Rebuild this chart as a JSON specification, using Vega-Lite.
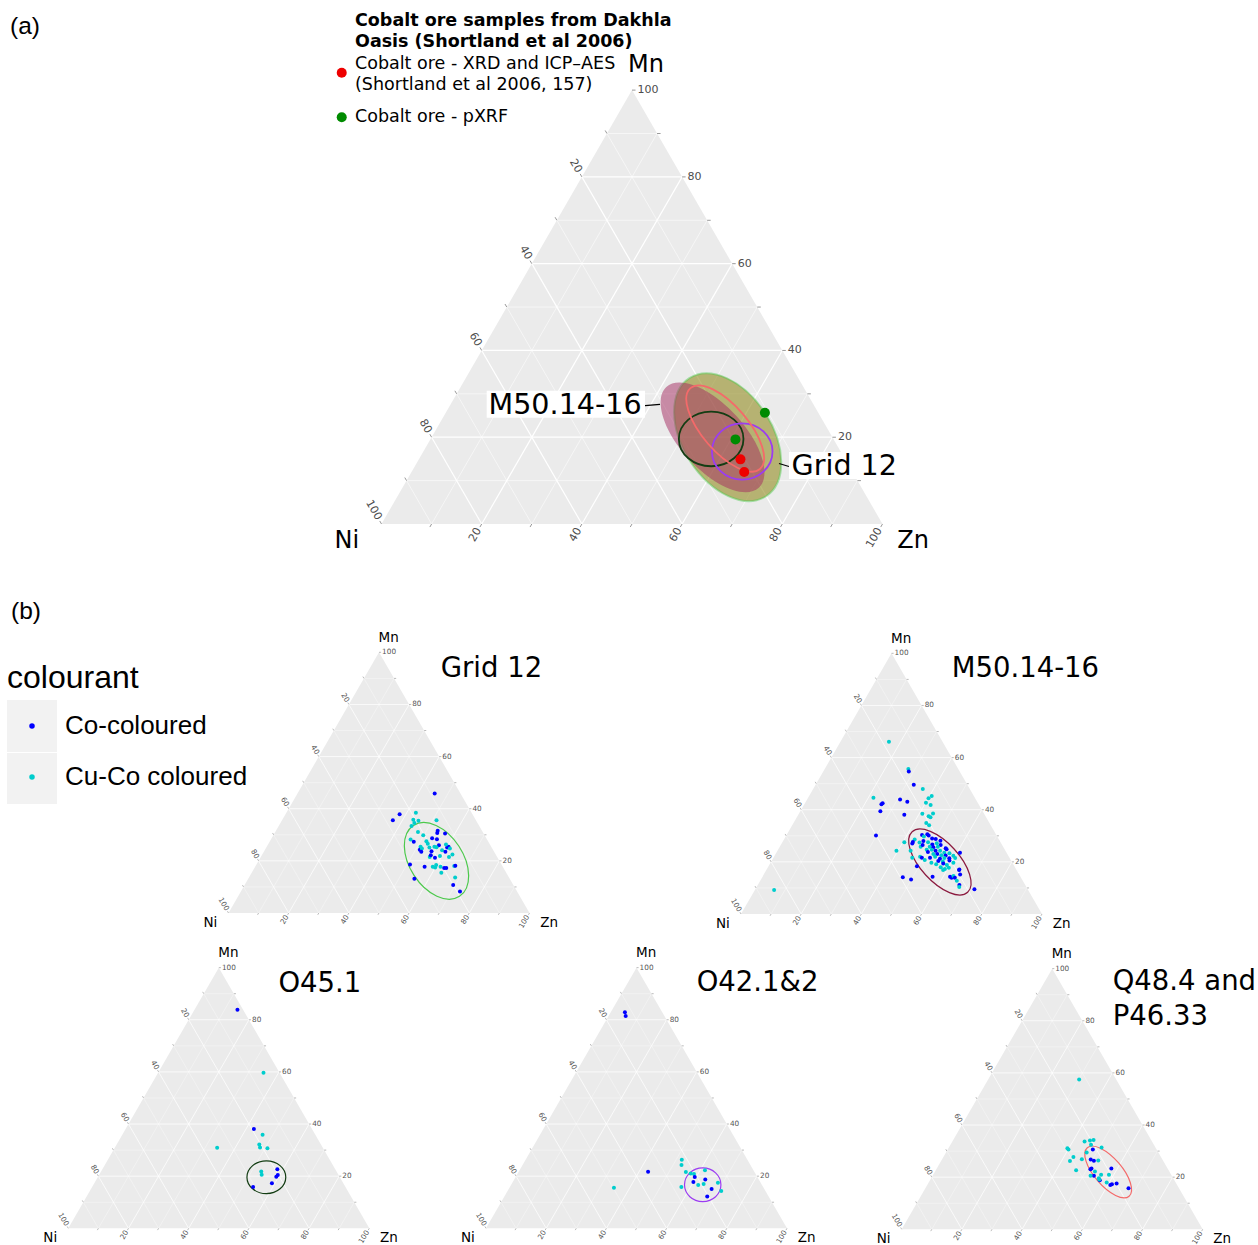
{
"$schema": "https://vega.github.io/schema/vega-lite/v6.json",
"padding": 0,
"spacing": 0,
"config": {"view": {"stroke": null, "fill": "#ffffff"}, "axis": {"disable": true}},
"resolve": {"scale": {"size": "independent"}},
"datasets": {
"one": [{"n": 1}],
"triangle": [{"Mn":0,"Zn":0},{"Mn":100,"Zn":0},{"Mn":0,"Zn":100}],
"grid": [
{"axis":"Mn","v":10,"mn1":10,"zn1":0,"mn2":10,"zn2":90},{"axis":"Zn","v":10,"mn1":0,"zn1":10,"mn2":90,"zn2":10},{"axis":"Ni","v":10,"mn1":0,"zn1":90,"mn2":90,"zn2":0},
{"axis":"Mn","v":20,"mn1":20,"zn1":0,"mn2":20,"zn2":80},{"axis":"Zn","v":20,"mn1":0,"zn1":20,"mn2":80,"zn2":20},{"axis":"Ni","v":20,"mn1":0,"zn1":80,"mn2":80,"zn2":0},
{"axis":"Mn","v":30,"mn1":30,"zn1":0,"mn2":30,"zn2":70},{"axis":"Zn","v":30,"mn1":0,"zn1":30,"mn2":70,"zn2":30},{"axis":"Ni","v":30,"mn1":0,"zn1":70,"mn2":70,"zn2":0},
{"axis":"Mn","v":40,"mn1":40,"zn1":0,"mn2":40,"zn2":60},{"axis":"Zn","v":40,"mn1":0,"zn1":40,"mn2":60,"zn2":40},{"axis":"Ni","v":40,"mn1":0,"zn1":60,"mn2":60,"zn2":0},
{"axis":"Mn","v":50,"mn1":50,"zn1":0,"mn2":50,"zn2":50},{"axis":"Zn","v":50,"mn1":0,"zn1":50,"mn2":50,"zn2":50},{"axis":"Ni","v":50,"mn1":0,"zn1":50,"mn2":50,"zn2":0},
{"axis":"Mn","v":60,"mn1":60,"zn1":0,"mn2":60,"zn2":40},{"axis":"Zn","v":60,"mn1":0,"zn1":60,"mn2":40,"zn2":60},{"axis":"Ni","v":60,"mn1":0,"zn1":40,"mn2":40,"zn2":0},
{"axis":"Mn","v":70,"mn1":70,"zn1":0,"mn2":70,"zn2":30},{"axis":"Zn","v":70,"mn1":0,"zn1":70,"mn2":30,"zn2":70},{"axis":"Ni","v":70,"mn1":0,"zn1":30,"mn2":30,"zn2":0},
{"axis":"Mn","v":80,"mn1":80,"zn1":0,"mn2":80,"zn2":20},{"axis":"Zn","v":80,"mn1":0,"zn1":80,"mn2":20,"zn2":80},{"axis":"Ni","v":80,"mn1":0,"zn1":20,"mn2":20,"zn2":0},
{"axis":"Mn","v":90,"mn1":90,"zn1":0,"mn2":90,"zn2":10},{"axis":"Zn","v":90,"mn1":0,"zn1":90,"mn2":10,"zn2":90},{"axis":"Ni","v":90,"mn1":0,"zn1":10,"mn2":10,"zn2":0}
],
"ticks": [
{"side":"R","v":10,"Mn":10,"Zn":90},{"side":"R","v":20,"Mn":20,"Zn":80},{"side":"R","v":30,"Mn":30,"Zn":70},{"side":"R","v":40,"Mn":40,"Zn":60},{"side":"R","v":50,"Mn":50,"Zn":50},{"side":"R","v":60,"Mn":60,"Zn":40},{"side":"R","v":70,"Mn":70,"Zn":30},{"side":"R","v":80,"Mn":80,"Zn":20},{"side":"R","v":90,"Mn":90,"Zn":10},{"side":"R","v":100,"Mn":100,"Zn":0},
{"side":"B","v":10,"Mn":0,"Zn":10},{"side":"B","v":20,"Mn":0,"Zn":20},{"side":"B","v":30,"Mn":0,"Zn":30},{"side":"B","v":40,"Mn":0,"Zn":40},{"side":"B","v":50,"Mn":0,"Zn":50},{"side":"B","v":60,"Mn":0,"Zn":60},{"side":"B","v":70,"Mn":0,"Zn":70},{"side":"B","v":80,"Mn":0,"Zn":80},{"side":"B","v":90,"Mn":0,"Zn":90},{"side":"B","v":100,"Mn":0,"Zn":100},
{"side":"L","v":10,"Mn":90,"Zn":0},{"side":"L","v":20,"Mn":80,"Zn":0},{"side":"L","v":30,"Mn":70,"Zn":0},{"side":"L","v":40,"Mn":60,"Zn":0},{"side":"L","v":50,"Mn":50,"Zn":0},{"side":"L","v":60,"Mn":40,"Zn":0},{"side":"L","v":70,"Mn":30,"Zn":0},{"side":"L","v":80,"Mn":20,"Zn":0},{"side":"L","v":90,"Mn":10,"Zn":0},{"side":"L","v":100,"Mn":0,"Zn":0}
],
"ellipses": [
{"ellipse":"Grid 12","Mn":20.0,"Zn":59.1,"major":14.05,"minor":8.9,"tilt":57},
{"ellipse":"M50.14-16","Mn":19.95,"Zn":56.1,"major":13.65,"minor":6.4,"tilt":47.5},
{"ellipse":"O45.1","Mn":19.6,"Zn":56.0,"major":6.45,"minor":5.45,"tilt":0},
{"ellipse":"O42.1&2","Mn":16.7,"Zn":63.65,"major":6.05,"minor":5.6,"tilt":0},
{"ellipse":"Q48.4 and P46.33","Mn":22.0,"Zn":57.6,"major":10.64,"minor":4.57,"tilt":49.3}
],
"ore": [
{"source":"Cobalt ore - XRD and ICP–AES (Shortland et al 2006, 157)","Mn":14.9,"Zn":64.2},
{"source":"Cobalt ore - XRD and ICP–AES (Shortland et al 2006, 157)","Mn":12.0,"Zn":66.4},
{"source":"Cobalt ore - pXRF","Mn":25.65,"Zn":63.7},
{"source":"Cobalt ore - pXRF","Mn":19.5,"Zn":60.9}
],
"grid12": [
{"colourant":"Co-coloured","Mn":45.8,"Zn":45.6},{"colourant":"Co-coloured","Mn":37.9,"Zn":37.9},{"colourant":"Co-coloured","Mn":35.6,"Zn":36.8},{"colourant":"Cu-Co coloured","Mn":38.5,"Zn":43.0},{"colourant":"Cu-Co coloured","Mn":35.8,"Zn":43.5},{"colourant":"Cu-Co coloured","Mn":35.4,"Zn":45.4},{"colourant":"Cu-Co coloured","Mn":35.6,"Zn":51.3},{"colourant":"Cu-Co coloured","Mn":34.5,"Zn":44.5},{"colourant":"Cu-Co coloured","Mn":33.4,"Zn":44.1},{"colourant":"Cu-Co coloured","Mn":31.1,"Zn":47.4},
{"colourant":"Co-coloured","Mn":31.6,"Zn":53.7},{"colourant":"Co-coloured","Mn":30.5,"Zn":56.7},{"colourant":"Co-coloured","Mn":30.7,"Zn":54.0},{"colourant":"Cu-Co coloured","Mn":29.8,"Zn":49.8},{"colourant":"Co-coloured","Mn":28.3,"Zn":55.1},{"colourant":"Cu-Co coloured","Mn":28.2,"Zn":46.4},{"colourant":"Co-coloured","Mn":27.3,"Zn":47.9},{"colourant":"Cu-Co coloured","Mn":27.5,"Zn":52.0},{"colourant":"Co-coloured","Mn":28.7,"Zn":53.3},{"colourant":"Cu-Co coloured","Mn":26.6,"Zn":52.9},
{"colourant":"Co-coloured","Mn":26.0,"Zn":56.9},{"colourant":"Co-coloured","Mn":25.1,"Zn":60.1},{"colourant":"Co-coloured","Mn":25.4,"Zn":60.4},{"colourant":"Cu-Co coloured","Mn":26.3,"Zn":59.1},{"colourant":"Cu-Co coloured","Mn":24.7,"Zn":61.2},{"colourant":"Cu-Co coloured","Mn":25.4,"Zn":51.1},{"colourant":"Co-coloured","Mn":24.3,"Zn":51.4},{"colourant":"Cu-Co coloured","Mn":24.7,"Zn":51.9},{"colourant":"Co-coloured","Mn":23.5,"Zn":52.3},{"colourant":"Cu-Co coloured","Mn":25.1,"Zn":54.2},
{"colourant":"Cu-Co coloured","Mn":25.4,"Zn":55.7},{"colourant":"Co-coloured","Mn":23.7,"Zn":55.6},{"colourant":"Cu-Co coloured","Mn":25.2,"Zn":56.5},{"colourant":"Cu-Co coloured","Mn":24.1,"Zn":58.9},{"colourant":"Co-coloured","Mn":23.5,"Zn":60.3},{"colourant":"Cu-Co coloured","Mn":22.4,"Zn":63.2},{"colourant":"Cu-Co coloured","Mn":21.5,"Zn":56.1},{"colourant":"Co-coloured","Mn":22.2,"Zn":56.1},{"colourant":"Co-coloured","Mn":21.2,"Zn":58.0},{"colourant":"Cu-Co coloured","Mn":21.5,"Zn":62.5},
{"colourant":"Cu-Co coloured","Mn":21.9,"Zn":59.3},{"colourant":"Co-coloured","Mn":18.6,"Zn":51.0},{"colourant":"Co-coloured","Mn":17.7,"Zn":56.3},{"colourant":"Cu-Co coloured","Mn":17.7,"Zn":59.0},{"colourant":"Cu-Co coloured","Mn":18.4,"Zn":59.8},{"colourant":"Cu-Co coloured","Mn":17.5,"Zn":59.9},{"colourant":"Cu-Co coloured","Mn":17.7,"Zn":61.6},{"colourant":"Co-coloured","Mn":17.3,"Zn":63.0},{"colourant":"Co-coloured","Mn":17.3,"Zn":63.7},{"colourant":"Cu-Co coloured","Mn":18.0,"Zn":66.0},
{"colourant":"Co-coloured","Mn":18.1,"Zn":66.3},{"colourant":"Cu-Co coloured","Mn":15.4,"Zn":63.0},{"colourant":"Co-coloured","Mn":13.1,"Zn":55.2},{"colourant":"Cu-Co coloured","Mn":13.6,"Zn":68.5},{"colourant":"Co-coloured","Mn":10.7,"Zn":69.3},{"colourant":"Co-coloured","Mn":8.2,"Zn":72.8}
],
"m50": [
{"colourant":"Cu-Co coloured","Mn":66.1,"Zn":16.1},{"colourant":"Cu-Co coloured","Mn":55.6,"Zn":27.8},{"colourant":"Co-coloured","Mn":54.7,"Zn":28.4},{"colourant":"Co-coloured","Mn":49.6,"Zn":32.6},{"colourant":"Cu-Co coloured","Mn":48.0,"Zn":36.4},{"colourant":"Cu-Co coloured","Mn":44.6,"Zn":21.7},{"colourant":"Co-coloured","Mn":42.5,"Zn":25.8},{"colourant":"Co-coloured","Mn":42.1,"Zn":25.6},{"colourant":"Co-coloured","Mn":39.4,"Zn":26.6},{"colourant":"Co-coloured","Mn":43.9,"Zn":30.9},
{"colourant":"Co-coloured","Mn":43.1,"Zn":33.7},{"colourant":"Co-coloured","Mn":38.1,"Zn":35.2},{"colourant":"Cu-Co coloured","Mn":45.3,"Zn":40.7},{"colourant":"Cu-Co coloured","Mn":44.4,"Zn":40.1},{"colourant":"Cu-Co coloured","Mn":42.7,"Zn":40.1},{"colourant":"Cu-Co coloured","Mn":41.8,"Zn":42.1},{"colourant":"Cu-Co coloured","Mn":38.5,"Zn":41.0},{"colourant":"Cu-Co coloured","Mn":37.5,"Zn":43.6},{"colourant":"Cu-Co coloured","Mn":38.6,"Zn":44.5},{"colourant":"Cu-Co coloured","Mn":37.1,"Zn":44.4},
{"colourant":"Cu-Co coloured","Mn":34.9,"Zn":44.1},{"colourant":"Cu-Co coloured","Mn":34.0,"Zn":45.5},{"colourant":"Co-coloured","Mn":30.1,"Zn":29.8},{"colourant":"Cu-Co coloured","Mn":9.2,"Zn":6.4},{"colourant":"Cu-Co coloured","Mn":24.3,"Zn":39.5},{"colourant":"Cu-Co coloured","Mn":27.5,"Zn":40.5},{"colourant":"Co-coloured","Mn":14.1,"Zn":46.7},{"colourant":"Co-coloured","Mn":13.2,"Zn":49.9},{"colourant":"Co-coloured","Mn":9.5,"Zn":72.8},{"colourant":"Co-coloured","Mn":14.3,"Zn":56.5},
{"colourant":"Co-coloured","Mn":18.3,"Zn":49.3},{"colourant":"Co-coloured","Mn":30.3,"Zn":45.0},{"colourant":"Co-coloured","Mn":30.6,"Zn":46.6},{"colourant":"Co-coloured","Mn":30.1,"Zn":47.3},{"colourant":"Cu-Co coloured","Mn":29.7,"Zn":45.9},{"colourant":"Co-coloured","Mn":29.0,"Zn":49.0},{"colourant":"Co-coloured","Mn":28.8,"Zn":50.3},{"colourant":"Cu-Co coloured","Mn":28.6,"Zn":43.4},{"colourant":"Co-coloured","Mn":27.6,"Zn":43.3},{"colourant":"Co-coloured","Mn":27.0,"Zn":43.4},
{"colourant":"Cu-Co coloured","Mn":27.4,"Zn":45.6},{"colourant":"Co-coloured","Mn":28.0,"Zn":46.6},{"colourant":"Co-coloured","Mn":28.1,"Zn":52.2},{"colourant":"Cu-Co coloured","Mn":27.5,"Zn":48.4},{"colourant":"Co-coloured","Mn":26.7,"Zn":50.2},{"colourant":"Cu-Co coloured","Mn":27.1,"Zn":51.5},{"colourant":"Co-coloured","Mn":26.5,"Zn":53.1},{"colourant":"Co-coloured","Mn":25.2,"Zn":55.4},{"colourant":"Cu-Co coloured","Mn":25.8,"Zn":46.8},{"colourant":"Co-coloured","Mn":26.5,"Zn":47.1},
{"colourant":"Cu-Co coloured","Mn":25.8,"Zn":49.8},{"colourant":"Co-coloured","Mn":25.6,"Zn":51.1},{"colourant":"Cu-Co coloured","Mn":25.8,"Zn":52.5},{"colourant":"Co-coloured","Mn":24.8,"Zn":55.9},{"colourant":"Co-coloured","Mn":23.5,"Zn":61.0},{"colourant":"Cu-Co coloured","Mn":24.6,"Zn":49.4},{"colourant":"Cu-Co coloured","Mn":24.6,"Zn":51.1},{"colourant":"Co-coloured","Mn":24.3,"Zn":52.5},{"colourant":"Cu-Co coloured","Mn":24.3,"Zn":54.0},{"colourant":"Cu-Co coloured","Mn":23.5,"Zn":55.8},
{"colourant":"Cu-Co coloured","Mn":23.3,"Zn":57.6},{"colourant":"Cu-Co coloured","Mn":24.3,"Zn":44.2},{"colourant":"Co-coloured","Mn":23.8,"Zn":50.2},{"colourant":"Co-coloured","Mn":23.0,"Zn":53.7},{"colourant":"Cu-Co coloured","Mn":23.0,"Zn":52.4},{"colourant":"Cu-Co coloured","Mn":22.5,"Zn":55.3},{"colourant":"Co-coloured","Mn":22.4,"Zn":56.8},{"colourant":"Cu-Co coloured","Mn":22.3,"Zn":59.4},{"colourant":"Cu-Co coloured","Mn":22.0,"Zn":48.5},{"colourant":"Co-coloured","Mn":21.6,"Zn":49.3},
{"colourant":"Co-coloured","Mn":21.6,"Zn":52.0},{"colourant":"Cu-Co coloured","Mn":22.0,"Zn":53.5},{"colourant":"Co-coloured","Mn":21.2,"Zn":55.5},{"colourant":"Cu-Co coloured","Mn":21.5,"Zn":56.8},{"colourant":"Co-coloured","Mn":21.4,"Zn":58.5},{"colourant":"Cu-Co coloured","Mn":21.5,"Zn":60.4},{"colourant":"Cu-Co coloured","Mn":21.6,"Zn":46.1},{"colourant":"Cu-Co coloured","Mn":20.7,"Zn":50.7},{"colourant":"Co-coloured","Mn":20.3,"Zn":55.4},{"colourant":"Cu-Co coloured","Mn":20.1,"Zn":57.0},
{"colourant":"Co-coloured","Mn":20.5,"Zn":59.0},{"colourant":"Cu-Co coloured","Mn":19.7,"Zn":53.4},{"colourant":"Cu-Co coloured","Mn":19.7,"Zn":60.7},{"colourant":"Co-coloured","Mn":19.4,"Zn":57.5},{"colourant":"Cu-Co coloured","Mn":19.1,"Zn":55.3},{"colourant":"Cu-Co coloured","Mn":18.8,"Zn":59.0},{"colourant":"Co-coloured","Mn":17.1,"Zn":64.0},{"colourant":"Cu-Co coloured","Mn":17.9,"Zn":57.4},{"colourant":"Cu-Co coloured","Mn":17.3,"Zn":59.1},{"colourant":"Cu-Co coloured","Mn":17.7,"Zn":60.2},
{"colourant":"Co-coloured","Mn":14.3,"Zn":62.3},{"colourant":"Co-coloured","Mn":13.9,"Zn":63.0},{"colourant":"Cu-Co coloured","Mn":14.6,"Zn":63.3},{"colourant":"Co-coloured","Mn":13.9,"Zn":64.1},{"colourant":"Co-coloured","Mn":16.9,"Zn":64.0},{"colourant":"Cu-Co coloured","Mn":12.8,"Zn":65.3},{"colourant":"Co-coloured","Mn":11.1,"Zn":67.0},{"colourant":"Cu-Co coloured","Mn":10.4,"Zn":67.3},{"colourant":"Co-coloured","Mn":15.2,"Zn":65.2},{"colourant":"Cu-Co coloured","Mn":16.9,"Zn":58.7}
],
"o45": [
{"colourant":"Co-coloured","Mn":83.8,"Zn":14.3},{"colourant":"Cu-Co coloured","Mn":59.7,"Zn":35.0},{"colourant":"Co-coloured","Mn":38.1,"Zn":42.6},{"colourant":"Cu-Co coloured","Mn":35.9,"Zn":46.6},{"colourant":"Cu-Co coloured","Mn":32.1,"Zn":47.4},{"colourant":"Cu-Co coloured","Mn":31.0,"Zn":48.2},{"colourant":"Cu-Co coloured","Mn":30.7,"Zn":50.8},{"colourant":"Cu-Co coloured","Mn":30.9,"Zn":34.0},
{"colourant":"Cu-Co coloured","Mn":21.8,"Zn":53.2},{"colourant":"Cu-Co coloured","Mn":20.5,"Zn":54.0},{"colourant":"Co-coloured","Mn":22.7,"Zn":58.1},{"colourant":"Co-coloured","Mn":20.4,"Zn":59.4},{"colourant":"Co-coloured","Mn":19.8,"Zn":59.2},{"colourant":"Co-coloured","Mn":17.3,"Zn":59.0},{"colourant":"Co-coloured","Mn":15.8,"Zn":53.5}
],
"o42": [
{"colourant":"Co-coloured","Mn":82.9,"Zn":4.7},{"colourant":"Co-coloured","Mn":81.4,"Zn":5.7},{"colourant":"Co-coloured","Mn":21.7,"Zn":43.0},{"colourant":"Cu-Co coloured","Mn":15.6,"Zn":34.7},{"colourant":"Cu-Co coloured","Mn":26.3,"Zn":51.9},{"colourant":"Cu-Co coloured","Mn":24.3,"Zn":52.8},{"colourant":"Cu-Co coloured","Mn":21.6,"Zn":55.6},{"colourant":"Cu-Co coloured","Mn":21.0,"Zn":57.5},{"colourant":"Cu-Co coloured","Mn":20.8,"Zn":58.7},{"colourant":"Cu-Co coloured","Mn":22.3,"Zn":61.6},
{"colourant":"Co-coloured","Mn":19.7,"Zn":59.5},{"colourant":"Co-coloured","Mn":18.7,"Zn":63.5},{"colourant":"Co-coloured","Mn":17.8,"Zn":60.0},{"colourant":"Cu-Co coloured","Mn":16.6,"Zn":62.2},{"colourant":"Cu-Co coloured","Mn":17.0,"Zn":63.8},{"colourant":"Cu-Co coloured","Mn":15.8,"Zn":57.0},{"colourant":"Cu-Co coloured","Mn":17.5,"Zn":68.3},{"colourant":"Cu-Co coloured","Mn":14.3,"Zn":71.0},{"colourant":"Co-coloured","Mn":15.1,"Zn":67.4},{"colourant":"Co-coloured","Mn":12.2,"Zn":67.4}
],
"q48": [
{"colourant":"Cu-Co coloured","Mn":57.5,"Zn":30.2},{"colourant":"Cu-Co coloured","Mn":33.7,"Zn":43.9},{"colourant":"Cu-Co coloured","Mn":34.1,"Zn":45.5},{"colourant":"Cu-Co coloured","Mn":34.3,"Zn":46.6},{"colourant":"Cu-Co coloured","Mn":32.4,"Zn":46.7},{"colourant":"Cu-Co coloured","Mn":31.1,"Zn":39.5},{"colourant":"Cu-Co coloured","Mn":30.6,"Zn":40.1},{"colourant":"Cu-Co coloured","Mn":29.5,"Zn":46.7},{"colourant":"Cu-Co coloured","Mn":31.4,"Zn":50.7},{"colourant":"Co-coloured","Mn":30.6,"Zn":48.2},
{"colourant":"Cu-Co coloured","Mn":27.7,"Zn":43.2},{"colourant":"Cu-Co coloured","Mn":26.2,"Zn":42.8},{"colourant":"Cu-Co coloured","Mn":26.9,"Zn":46.4},{"colourant":"Co-coloured","Mn":26.8,"Zn":49.4},{"colourant":"Co-coloured","Mn":26.3,"Zn":50.7},{"colourant":"Cu-Co coloured","Mn":26.4,"Zn":52.1},{"colourant":"Cu-Co coloured","Mn":22.7,"Zn":46.6},{"colourant":"Co-coloured","Mn":23.3,"Zn":51.4},{"colourant":"Co-coloured","Mn":23.0,"Zn":51.2},{"colourant":"Cu-Co coloured","Mn":22.2,"Zn":53.1},
{"colourant":"Co-coloured","Mn":23.3,"Zn":58.0},{"colourant":"Co-coloured","Mn":20.5,"Zn":53.6},{"colourant":"Cu-Co coloured","Mn":20.5,"Zn":52.5},{"colourant":"Cu-Co coloured","Mn":20.9,"Zn":55.8},{"colourant":"Cu-Co coloured","Mn":20.9,"Zn":58.4},{"colourant":"Cu-Co coloured","Mn":19.6,"Zn":55.7},{"colourant":"Co-coloured","Mn":18.8,"Zn":56.4},{"colourant":"Cu-Co coloured","Mn":18.0,"Zn":59.1},{"colourant":"Co-coloured","Mn":17.0,"Zn":60.8},{"colourant":"Co-coloured","Mn":17.3,"Zn":61.2},
{"colourant":"Co-coloured","Mn":17.6,"Zn":62.6},{"colourant":"Co-coloured","Mn":15.7,"Zn":67.5},{"colourant":"Cu-Co coloured","Mn":19.1,"Zn":56.1}
]
},
"vconcat": [
{
"width": 1258, "height": 595,
"layer": [
{
"encoding": {"x": {"field":"tx","type":"quantitative","axis":null,"scale":{"domain":[-76.148,174.95],"nice":false,"zero":false}}, "y": {"field":"ty","type":"quantitative","axis":null,"scale":{"domain":[-14.172,104.591],"nice":false,"zero":false}}},
"layer": [
{"data":{"name":"triangle"},"transform":[{"calculate":"datum.Zn + datum.Mn / 2","as":"tx"},{"calculate":"datum.Mn * 0.8660254","as":"ty"}],"mark":{"type":"area","color":"#ebebeb","opacity":1},"encoding":{"y2":{"datum":0}}},
{"data":{"name":"grid"},"transform":[{"calculate":"datum.zn1 + datum.mn1 / 2","as":"tx"},{"calculate":"datum.mn1 * 0.8660254","as":"ty"},{"calculate":"datum.zn2 + datum.mn2 / 2","as":"tx2"},{"calculate":"datum.mn2 * 0.8660254","as":"ty2"},{"filter":"datum.v % 20 != 0"}],"mark":{"type":"rule","color":"#ffffff","strokeWidth":0.55},"encoding":{"x2":{"field":"tx2"},"y2":{"field":"ty2"}}},
{"data":{"name":"grid"},"transform":[{"calculate":"datum.zn1 + datum.mn1 / 2","as":"tx"},{"calculate":"datum.mn1 * 0.8660254","as":"ty"},{"calculate":"datum.zn2 + datum.mn2 / 2","as":"tx2"},{"calculate":"datum.mn2 * 0.8660254","as":"ty2"},{"filter":"datum.v % 20 == 0"}],"mark":{"type":"rule","color":"#ffffff","strokeWidth":1.2},"encoding":{"x2":{"field":"tx2"},"y2":{"field":"ty2"}}},
{"data":{"name":"ticks"},"transform":[{"calculate":"datum.Zn + datum.Mn / 2","as":"tx"},{"calculate":"datum.Mn * 0.8660254","as":"ty"},{"calculate":"datum.side == 'R' ? datum.tx + 0.7 : datum.tx - 0.35","as":"tx2"},{"calculate":"datum.side == 'R' ? datum.ty : (datum.side == 'B' ? datum.ty - 0.606 : datum.ty + 0.606)","as":"ty2"}],"mark":{"type":"rule","color":"#333333","strokeWidth":0.5},"encoding":{"x2":{"field":"tx2"},"y2":{"field":"ty2"}}},
{"data":{"name":"ticks"},"transform":[{"calculate":"datum.Zn + datum.Mn / 2","as":"tx"},{"calculate":"datum.Mn * 0.8660254","as":"ty"},{"calculate":"datum.side == 'R' ? datum.tx + 0.7 : datum.tx - 0.35","as":"tx2"},{"calculate":"datum.side == 'R' ? datum.ty : (datum.side == 'B' ? datum.ty - 0.606 : datum.ty + 0.606)","as":"ty2"},{"filter":"datum.side == 'R' && datum.v % 20 == 0"}],"mark":{"type":"text","font":"DejaVu Sans","fontSize":11,"color":"#4d4d4d","align":"left","baseline":"middle","dx":2},"encoding":{"x":{"field":"tx2","type":"quantitative","axis":null},"y":{"field":"ty2","type":"quantitative","axis":null},"text":{"field":"v","type":"nominal"}}},
{"data":{"name":"ticks"},"transform":[{"calculate":"datum.Zn + datum.Mn / 2","as":"tx"},{"calculate":"datum.Mn * 0.8660254","as":"ty"},{"calculate":"datum.side == 'R' ? datum.tx + 0.7 : datum.tx - 0.35","as":"tx2"},{"calculate":"datum.side == 'R' ? datum.ty : (datum.side == 'B' ? datum.ty - 0.606 : datum.ty + 0.606)","as":"ty2"},{"filter":"datum.side == 'L' && datum.v % 20 == 0"}],"mark":{"type":"text","font":"DejaVu Sans","fontSize":11,"color":"#4d4d4d","align":"right","baseline":"middle","angle":60,"dx":-2},"encoding":{"x":{"field":"tx2","type":"quantitative","axis":null},"y":{"field":"ty2","type":"quantitative","axis":null},"text":{"field":"v","type":"nominal"}}},
{"data":{"name":"ticks"},"transform":[{"calculate":"datum.Zn + datum.Mn / 2","as":"tx"},{"calculate":"datum.Mn * 0.8660254","as":"ty"},{"calculate":"datum.side == 'R' ? datum.tx + 0.7 : datum.tx - 0.35","as":"tx2"},{"calculate":"datum.side == 'R' ? datum.ty : (datum.side == 'B' ? datum.ty - 0.606 : datum.ty + 0.606)","as":"ty2"},{"filter":"datum.side == 'B' && datum.v % 20 == 0"}],"mark":{"type":"text","font":"DejaVu Sans","fontSize":11,"color":"#4d4d4d","align":"right","baseline":"middle","angle":-60,"dx":-2},"encoding":{"x":{"field":"tx2","type":"quantitative","axis":null},"y":{"field":"ty2","type":"quantitative","axis":null},"text":{"field":"v","type":"nominal"}}},
{"data":{"name":"ellipses"},"transform":[{"filter":{"field":"ellipse","equal":"Grid 12"}},{"calculate":"datum.Zn + datum.Mn / 2","as":"tx"},{"calculate":"datum.Mn * 0.8660254","as":"ty"}],"mark":{"type":"point","filled":true,"fill":"#938c22","fillOpacity":0.6,"opacity":1,"strokeWidth":2,"strokeOpacity":0.45},"encoding":{
 "shape":{"field":"ellipse","type":"nominal","legend":null,"scale":{"domain":["Grid 12","M50.14-16","O45.1","O42.1&2","Q48.4 and P46.33"],"range":["M1,0C1,0.35 0.552,0.633 0,0.633C-0.552,0.633 -1,0.35 -1,0C-1,-0.35 -0.552,-0.633 0,-0.633C0.552,-0.633 1,-0.35 1,0Z","M1,0C1,0.259 0.552,0.469 0,0.469C-0.552,0.469 -1,0.259 -1,0C-1,-0.259 -0.552,-0.469 0,-0.469C0.552,-0.469 1,-0.259 1,0Z","M1,0C1,0.467 0.552,0.845 0,0.845C-0.552,0.845 -1,0.467 -1,0C-1,-0.467 -0.552,-0.845 0,-0.845C0.552,-0.845 1,-0.467 1,0Z","M1,0C1,0.511 0.552,0.926 0,0.926C-0.552,0.926 -1,0.511 -1,0C-1,-0.511 -0.552,-0.926 0,-0.926C0.552,-0.926 1,-0.511 1,0Z","M1,0C1,0.238 0.552,0.43 0,0.43C-0.552,0.43 -1,0.238 -1,0C-1,-0.238 -0.552,-0.43 0,-0.43C0.552,-0.43 1,-0.238 1,0Z"]}},
 "size":{"field":"major","type":"quantitative","legend":null,"scale":{"type":"pow","exponent":2,"domain":[0,20],"range":[0,40160],"nice":false}},
 "angle":{"field":"tilt","type":"quantitative","scale":null},
 "stroke":{"field":"ellipse","type":"nominal","legend":null,"scale":{"domain":["Grid 12","M50.14-16","O45.1","O42.1&2","Q48.4 and P46.33"],"range":["#4cc94c","#8b1a3f","#133d13","#9b3cf2","#f46a6a"]}}}},
{"data":{"name":"ellipses"},"transform":[{"filter":{"field":"ellipse","equal":"M50.14-16"}},{"calculate":"datum.Zn + datum.Mn / 2","as":"tx"},{"calculate":"datum.Mn * 0.8660254","as":"ty"}],"mark":{"type":"point","filled":true,"fill":"#a3295f","fillOpacity":0.5,"opacity":1,"strokeWidth":0},"encoding":{
 "shape":{"field":"ellipse","type":"nominal","legend":null},
 "size":{"field":"major","type":"quantitative","legend":null},
 "angle":{"field":"tilt","type":"quantitative","scale":null}}},
{"data":{"name":"ellipses"},"transform":[{"filter":{"field":"ellipse","oneOf":["O45.1","O42.1&2","Q48.4 and P46.33"]}},{"calculate":"datum.Zn + datum.Mn / 2","as":"tx"},{"calculate":"datum.Mn * 0.8660254","as":"ty"}],"mark":{"type":"point","filled":false,"opacity":1,"strokeWidth":1.8},"encoding":{
 "shape":{"field":"ellipse","type":"nominal","legend":null},
 "size":{"field":"major","type":"quantitative","legend":null},
 "angle":{"field":"tilt","type":"quantitative","scale":null},
 "stroke":{"field":"ellipse","type":"nominal","legend":null}}},
{"data":{"name":"ore"},"transform":[{"calculate":"datum.Zn + datum.Mn / 2","as":"tx"},{"calculate":"datum.Mn * 0.8660254","as":"ty"}],"mark":{"type":"point","filled":true,"size":100,"opacity":1,"strokeWidth":0},"encoding":{
 "fill":{"field":"source","type":"nominal","scale":{"domain":["Cobalt ore - XRD and ICP–AES (Shortland et al 2006, 157)","Cobalt ore - pXRF"],"range":["#ee0000","#008b00"]},"legend":null}}}
]
},
{"data":{"name":"one"},"mark":{"type":"text","text":"Mn","font":"DejaVu Sans","fontSize":24,"align":"center","baseline":"middle","color":"black"},"encoding":{"x":{"datum":52.8,"axis":null},"y":{"datum":91.6,"axis":null}}},
{"data":{"name":"one"},"mark":{"type":"text","text":"Ni","font":"DejaVu Sans","fontSize":24,"align":"center","baseline":"middle","color":"black"},"encoding":{"x":{"datum":-6.9,"axis":null},"y":{"datum":-3.4,"axis":null}}},
{"data":{"name":"one"},"mark":{"type":"text","text":"Zn","font":"DejaVu Sans","fontSize":24,"align":"center","baseline":"middle","color":"black"},"encoding":{"x":{"datum":106.1,"axis":null},"y":{"datum":-3.4,"axis":null}}},
{"data":{"name":"one"},"mark":{"type":"rule","color":"black","strokeWidth":1.2},"encoding":{"x":{"datum":52.59,"axis":null},"y":{"datum":23.61,"axis":null},"x2":{"datum":55.59},"y2":{"datum":23.89}}},
{"data":{"name":"one"},"mark":{"type":"rule","color":"black","strokeWidth":1.2},"encoding":{"x":{"datum":79.34,"axis":null},"y":{"datum":12.08,"axis":null},"x2":{"datum":81.34},"y2":{"datum":11.48}}},
{"data":{"name":"one"},"mark":{"type":"rect","color":"#ffffff"},"encoding":{"x":{"datum":21.0,"axis":null},"x2":{"datum":52.59},"y":{"datum":26.6,"axis":null},"y2":{"datum":21.2}}},
{"data":{"name":"one"},"mark":{"type":"rect","color":"#ffffff"},"encoding":{"x":{"datum":81.34,"axis":null},"x2":{"datum":103.29},"y":{"datum":14.37,"axis":null},"y2":{"datum":8.98}}},
{"data":{"name":"one"},"mark":{"type":"text","text":"M50.14-16","font":"DejaVu Sans","fontSize":28.6,"align":"right","baseline":"middle","color":"black"},"encoding":{"x":{"datum":51.94,"axis":null},"y":{"datum":23.75,"axis":null}}},
{"data":{"name":"one"},"mark":{"type":"text","text":"Grid 12","font":"DejaVu Sans","fontSize":28.6,"align":"left","baseline":"middle","color":"black"},"encoding":{"x":{"datum":81.84,"axis":null},"y":{"datum":11.58,"axis":null}}},
{"data":{"name":"one"},"mark":{"type":"text","text":["Cobalt ore samples from Dakhla","Oasis (Shortland et al 2006)"],"font":"DejaVu Sans","fontWeight":"bold","fontSize":17.5,"lineHeight":21,"align":"left","baseline":"alphabetic","color":"black"},"encoding":{"x":{"datum":-5.29,"axis":null},"y":{"datum":99.4,"axis":null}}},
{"data":{"name":"one"},"mark":{"type":"point","filled":true,"size":100,"opacity":1,"strokeWidth":0,"fill":"#ee0000"},"encoding":{"x":{"datum":-7.94,"axis":null},"y":{"datum":90.08,"axis":null}}},
{"data":{"name":"one"},"mark":{"type":"point","filled":true,"size":100,"opacity":1,"strokeWidth":0,"fill":"#008b00"},"encoding":{"x":{"datum":-7.94,"axis":null},"y":{"datum":81.18,"axis":null}}},
{"data":{"name":"one"},"mark":{"type":"text","text":["Cobalt ore - XRD and ICP–AES","(Shortland et al 2006, 157)"],"font":"DejaVu Sans","fontSize":17.5,"lineHeight":21,"align":"left","baseline":"alphabetic","color":"black"},"encoding":{"x":{"datum":-5.29,"axis":null},"y":{"datum":90.76,"axis":null}}},
{"data":{"name":"one"},"mark":{"type":"text","text":"Cobalt ore - pXRF","font":"DejaVu Sans","fontSize":17.5,"align":"left","baseline":"alphabetic","color":"black"},"encoding":{"x":{"datum":-5.29,"axis":null},"y":{"datum":80.3,"axis":null}}},
{"data":{"name":"one"},"mark":{"type":"text","text":"(a)","font":"Liberation Sans","fontSize":24.5,"align":"left","baseline":"middle","color":"black"},"encoding":{"x":{"datum":-74.15,"axis":null},"y":{"datum":99.2,"axis":null}}}
]
},
{
"hconcat": [
{
"width": 629, "height": 340,
"layer": [
{
"encoding": {"x": {"field":"tx","type":"quantitative","axis":null,"scale":{"domain":[-75.914,133.056],"nice":false,"zero":false}}, "y": {"field":"ty","type":"quantitative","axis":null,"scale":{"domain":[-7.309,105.648],"nice":false,"zero":false}}},
"layer": [
{"data":{"name":"triangle"},"transform":[{"calculate":"datum.Zn + datum.Mn / 2","as":"tx"},{"calculate":"datum.Mn * 0.8660254","as":"ty"}],"mark":{"type":"area","color":"#ebebeb","opacity":1},"encoding":{"y2":{"datum":0}}},
{"data":{"name":"grid"},"transform":[{"calculate":"datum.zn1 + datum.mn1 / 2","as":"tx"},{"calculate":"datum.mn1 * 0.8660254","as":"ty"},{"calculate":"datum.zn2 + datum.mn2 / 2","as":"tx2"},{"calculate":"datum.mn2 * 0.8660254","as":"ty2"},{"filter":"datum.v % 20 != 0"}],"mark":{"type":"rule","color":"#ffffff","strokeWidth":0.35},"encoding":{"x2":{"field":"tx2"},"y2":{"field":"ty2"}}},
{"data":{"name":"grid"},"transform":[{"calculate":"datum.zn1 + datum.mn1 / 2","as":"tx"},{"calculate":"datum.mn1 * 0.8660254","as":"ty"},{"calculate":"datum.zn2 + datum.mn2 / 2","as":"tx2"},{"calculate":"datum.mn2 * 0.8660254","as":"ty2"},{"filter":"datum.v % 20 == 0"}],"mark":{"type":"rule","color":"#ffffff","strokeWidth":0.75},"encoding":{"x2":{"field":"tx2"},"y2":{"field":"ty2"}}},
{"data":{"name":"ticks"},"transform":[{"calculate":"datum.Zn + datum.Mn / 2","as":"tx"},{"calculate":"datum.Mn * 0.8660254","as":"ty"},{"calculate":"datum.side == 'R' ? datum.tx + 0.7 : datum.tx - 0.35","as":"tx2"},{"calculate":"datum.side == 'R' ? datum.ty : (datum.side == 'B' ? datum.ty - 0.606 : datum.ty + 0.606)","as":"ty2"}],"mark":{"type":"rule","color":"#555555","strokeWidth":0.4},"encoding":{"x2":{"field":"tx2"},"y2":{"field":"ty2"}}},
{"data":{"name":"ticks"},"transform":[{"calculate":"datum.Zn + datum.Mn / 2","as":"tx"},{"calculate":"datum.Mn * 0.8660254","as":"ty"},{"calculate":"datum.side == 'R' ? datum.tx + 0.7 : datum.tx - 0.35","as":"tx2"},{"calculate":"datum.side == 'R' ? datum.ty : (datum.side == 'B' ? datum.ty - 0.606 : datum.ty + 0.606)","as":"ty2"},{"filter":"datum.side == 'R' && datum.v % 20 == 0"}],"mark":{"type":"text","font":"DejaVu Sans","fontSize":7.3,"color":"#555555","align":"left","baseline":"middle","dx":1},"encoding":{"x":{"field":"tx2","type":"quantitative","axis":null},"y":{"field":"ty2","type":"quantitative","axis":null},"text":{"field":"v","type":"nominal"}}},
{"data":{"name":"ticks"},"transform":[{"calculate":"datum.Zn + datum.Mn / 2","as":"tx"},{"calculate":"datum.Mn * 0.8660254","as":"ty"},{"calculate":"datum.side == 'R' ? datum.tx + 0.7 : datum.tx - 0.35","as":"tx2"},{"calculate":"datum.side == 'R' ? datum.ty : (datum.side == 'B' ? datum.ty - 0.606 : datum.ty + 0.606)","as":"ty2"},{"filter":"datum.side == 'L' && datum.v % 20 == 0"}],"mark":{"type":"text","font":"DejaVu Sans","fontSize":7.3,"color":"#555555","align":"right","baseline":"middle","angle":60,"dx":-1},"encoding":{"x":{"field":"tx2","type":"quantitative","axis":null},"y":{"field":"ty2","type":"quantitative","axis":null},"text":{"field":"v","type":"nominal"}}},
{"data":{"name":"ticks"},"transform":[{"calculate":"datum.Zn + datum.Mn / 2","as":"tx"},{"calculate":"datum.Mn * 0.8660254","as":"ty"},{"calculate":"datum.side == 'R' ? datum.tx + 0.7 : datum.tx - 0.35","as":"tx2"},{"calculate":"datum.side == 'R' ? datum.ty : (datum.side == 'B' ? datum.ty - 0.606 : datum.ty + 0.606)","as":"ty2"},{"filter":"datum.side == 'B' && datum.v % 20 == 0"}],"mark":{"type":"text","font":"DejaVu Sans","fontSize":7.3,"color":"#555555","align":"right","baseline":"middle","angle":-60,"dx":-1},"encoding":{"x":{"field":"tx2","type":"quantitative","axis":null},"y":{"field":"ty2","type":"quantitative","axis":null},"text":{"field":"v","type":"nominal"}}},
{"data":{"name":"ellipses"},"transform":[{"filter":{"field":"ellipse","equal":"Grid 12"}},{"calculate":"datum.Zn + datum.Mn / 2","as":"tx"},{"calculate":"datum.Mn * 0.8660254","as":"ty"}],"mark":{"type":"point","filled":false,"opacity":1,"strokeWidth":1.2},"encoding":{
 "shape":{"field":"ellipse","type":"nominal","legend":null},
 "size":{"field":"major","type":"quantitative","legend":null,"scale":{"type":"pow","exponent":2,"domain":[0,20],"range":[0,14496],"nice":false}},
 "angle":{"field":"tilt","type":"quantitative","scale":null},
 "stroke":{"field":"ellipse","type":"nominal","legend":null}}},
{"data":{"name":"grid12"},"transform":[{"calculate":"datum.Zn + datum.Mn / 2","as":"tx"},{"calculate":"datum.Mn * 0.8660254","as":"ty"}],"mark":{"type":"point","filled":true,"size":16,"opacity":1,"strokeWidth":0},"encoding":{
 "color":{"field":"colourant","type":"nominal","scale":{"domain":["Co-coloured","Cu-Co coloured"],"range":["#0000ff","#00cdcd"]},"legend":{"orient":"none","legendX":7,"legendY":663,"padding":0,"title":"colourant","titleFont":"Liberation Sans","titleFontSize":32,"titleFontWeight":"normal","titleColor":"black","titlePadding":18,"labelFont":"Liberation Sans","labelFontSize":26,"labelColor":"black","labelLimit":600,"labelOffset":20,"symbolOffset":12,"symbolType":"circle","symbolSize":30,"symbolStrokeWidth":0,"symbolOpacity":1,"rowPadding":25}}}}
]
},
{"data":{"name":"one"},"mark":{"type":"rect","color":"#f2f2f2"},"encoding":{"x":{"datum":-73.59,"axis":null},"x2":{"datum":-56.98},"y":{"datum":70.76,"axis":null},"y2":{"datum":53.49}}},
{"data":{"name":"one"},"mark":{"type":"rect","color":"#f2f2f2"},"encoding":{"x":{"datum":-73.59,"axis":null},"x2":{"datum":-56.98},"y":{"datum":53.16,"axis":null},"y2":{"datum":36.21}}},
{"data":{"name":"one"},"mark":{"type":"text","text":"(b)","font":"Liberation Sans","fontSize":24.5,"align":"left","baseline":"middle","color":"black"},"encoding":{"x":{"datum":-72.26,"axis":null},"y":{"datum":100.0,"axis":null}}},
{"data":{"name":"one"},"mark":{"type":"text","text":"Mn","font":"DejaVu Sans","fontSize":13.5,"align":"center","baseline":"middle","color":"black"},"encoding":{"x":{"datum":53.2,"axis":null},"y":{"datum":91.4,"axis":null}}},
{"data":{"name":"one"},"mark":{"type":"text","text":"Ni","font":"DejaVu Sans","fontSize":13.5,"align":"center","baseline":"middle","color":"black"},"encoding":{"x":{"datum":-6.0,"axis":null},"y":{"datum":-3.2,"axis":null}}},
{"data":{"name":"one"},"mark":{"type":"text","text":"Zn","font":"DejaVu Sans","fontSize":13.5,"align":"center","baseline":"middle","color":"black"},"encoding":{"x":{"datum":106.5,"axis":null},"y":{"datum":-3.2,"axis":null}}},
{"data":{"name":"one"},"mark":{"type":"text","text":"Grid 12","font":"DejaVu Sans","fontSize":27.5,"align":"left","baseline":"middle","color":"black"},"encoding":{"x":{"datum":70.5,"axis":null},"y":{"datum":81.06,"axis":null}}}
]
},
{
"width": 629, "height": 340,
"layer": [
{
"encoding": {"x": {"field":"tx","type":"quantitative","axis":null,"scale":{"domain":[-37.209,171.761],"nice":false,"zero":false}}, "y": {"field":"ty","type":"quantitative","axis":null,"scale":{"domain":[-6.977,105.98],"nice":false,"zero":false}}},
"layer": [
{"data":{"name":"triangle"},"transform":[{"calculate":"datum.Zn + datum.Mn / 2","as":"tx"},{"calculate":"datum.Mn * 0.8660254","as":"ty"}],"mark":{"type":"area","color":"#ebebeb","opacity":1},"encoding":{"y2":{"datum":0}}},
{"data":{"name":"grid"},"transform":[{"calculate":"datum.zn1 + datum.mn1 / 2","as":"tx"},{"calculate":"datum.mn1 * 0.8660254","as":"ty"},{"calculate":"datum.zn2 + datum.mn2 / 2","as":"tx2"},{"calculate":"datum.mn2 * 0.8660254","as":"ty2"},{"filter":"datum.v % 20 != 0"}],"mark":{"type":"rule","color":"#ffffff","strokeWidth":0.35},"encoding":{"x2":{"field":"tx2"},"y2":{"field":"ty2"}}},
{"data":{"name":"grid"},"transform":[{"calculate":"datum.zn1 + datum.mn1 / 2","as":"tx"},{"calculate":"datum.mn1 * 0.8660254","as":"ty"},{"calculate":"datum.zn2 + datum.mn2 / 2","as":"tx2"},{"calculate":"datum.mn2 * 0.8660254","as":"ty2"},{"filter":"datum.v % 20 == 0"}],"mark":{"type":"rule","color":"#ffffff","strokeWidth":0.75},"encoding":{"x2":{"field":"tx2"},"y2":{"field":"ty2"}}},
{"data":{"name":"ticks"},"transform":[{"calculate":"datum.Zn + datum.Mn / 2","as":"tx"},{"calculate":"datum.Mn * 0.8660254","as":"ty"},{"calculate":"datum.side == 'R' ? datum.tx + 0.7 : datum.tx - 0.35","as":"tx2"},{"calculate":"datum.side == 'R' ? datum.ty : (datum.side == 'B' ? datum.ty - 0.606 : datum.ty + 0.606)","as":"ty2"}],"mark":{"type":"rule","color":"#555555","strokeWidth":0.4},"encoding":{"x2":{"field":"tx2"},"y2":{"field":"ty2"}}},
{"data":{"name":"ticks"},"transform":[{"calculate":"datum.Zn + datum.Mn / 2","as":"tx"},{"calculate":"datum.Mn * 0.8660254","as":"ty"},{"calculate":"datum.side == 'R' ? datum.tx + 0.7 : datum.tx - 0.35","as":"tx2"},{"calculate":"datum.side == 'R' ? datum.ty : (datum.side == 'B' ? datum.ty - 0.606 : datum.ty + 0.606)","as":"ty2"},{"filter":"datum.side == 'R' && datum.v % 20 == 0"}],"mark":{"type":"text","font":"DejaVu Sans","fontSize":7.3,"color":"#555555","align":"left","baseline":"middle","dx":1},"encoding":{"x":{"field":"tx2","type":"quantitative","axis":null},"y":{"field":"ty2","type":"quantitative","axis":null},"text":{"field":"v","type":"nominal"}}},
{"data":{"name":"ticks"},"transform":[{"calculate":"datum.Zn + datum.Mn / 2","as":"tx"},{"calculate":"datum.Mn * 0.8660254","as":"ty"},{"calculate":"datum.side == 'R' ? datum.tx + 0.7 : datum.tx - 0.35","as":"tx2"},{"calculate":"datum.side == 'R' ? datum.ty : (datum.side == 'B' ? datum.ty - 0.606 : datum.ty + 0.606)","as":"ty2"},{"filter":"datum.side == 'L' && datum.v % 20 == 0"}],"mark":{"type":"text","font":"DejaVu Sans","fontSize":7.3,"color":"#555555","align":"right","baseline":"middle","angle":60,"dx":-1},"encoding":{"x":{"field":"tx2","type":"quantitative","axis":null},"y":{"field":"ty2","type":"quantitative","axis":null},"text":{"field":"v","type":"nominal"}}},
{"data":{"name":"ticks"},"transform":[{"calculate":"datum.Zn + datum.Mn / 2","as":"tx"},{"calculate":"datum.Mn * 0.8660254","as":"ty"},{"calculate":"datum.side == 'R' ? datum.tx + 0.7 : datum.tx - 0.35","as":"tx2"},{"calculate":"datum.side == 'R' ? datum.ty : (datum.side == 'B' ? datum.ty - 0.606 : datum.ty + 0.606)","as":"ty2"},{"filter":"datum.side == 'B' && datum.v % 20 == 0"}],"mark":{"type":"text","font":"DejaVu Sans","fontSize":7.3,"color":"#555555","align":"right","baseline":"middle","angle":-60,"dx":-1},"encoding":{"x":{"field":"tx2","type":"quantitative","axis":null},"y":{"field":"ty2","type":"quantitative","axis":null},"text":{"field":"v","type":"nominal"}}},
{"data":{"name":"ellipses"},"transform":[{"filter":{"field":"ellipse","equal":"M50.14-16"}},{"calculate":"datum.Zn + datum.Mn / 2","as":"tx"},{"calculate":"datum.Mn * 0.8660254","as":"ty"}],"mark":{"type":"point","filled":false,"opacity":1,"strokeWidth":1.2},"encoding":{
 "shape":{"field":"ellipse","type":"nominal","legend":null},
 "size":{"field":"major","type":"quantitative","legend":null,"scale":{"type":"pow","exponent":2,"domain":[0,20],"range":[0,14496],"nice":false}},
 "angle":{"field":"tilt","type":"quantitative","scale":null},
 "stroke":{"field":"ellipse","type":"nominal","legend":null}}},
{"data":{"name":"m50"},"transform":[{"calculate":"datum.Zn + datum.Mn / 2","as":"tx"},{"calculate":"datum.Mn * 0.8660254","as":"ty"}],"mark":{"type":"point","filled":true,"size":16,"opacity":1,"strokeWidth":0},"encoding":{"color":{"field":"colourant","type":"nominal"}}}
]
},
{"data":{"name":"one"},"mark":{"type":"text","text":"Mn","font":"DejaVu Sans","fontSize":13.5,"align":"center","baseline":"middle","color":"black"},"encoding":{"x":{"datum":53.2,"axis":null},"y":{"datum":91.4,"axis":null}}},
{"data":{"name":"one"},"mark":{"type":"text","text":"Ni","font":"DejaVu Sans","fontSize":13.5,"align":"center","baseline":"middle","color":"black"},"encoding":{"x":{"datum":-6.0,"axis":null},"y":{"datum":-3.2,"axis":null}}},
{"data":{"name":"one"},"mark":{"type":"text","text":"Zn","font":"DejaVu Sans","fontSize":13.5,"align":"center","baseline":"middle","color":"black"},"encoding":{"x":{"datum":106.5,"axis":null},"y":{"datum":-3.2,"axis":null}}},
{"data":{"name":"one"},"mark":{"type":"text","text":"M50.14-16","font":"DejaVu Sans","fontSize":27.5,"align":"left","baseline":"middle","color":"black"},"encoding":{"x":{"datum":70.0,"axis":null},"y":{"datum":81.4,"axis":null}}}
]
}
],
"spacing": 0,
"bounds": "flush"
},
{
"hconcat": [
{
"width": 419, "height": 310,
"layer": [
{
"encoding": {"x": {"field":"tx","type":"quantitative","axis":null,"scale":{"domain":[-22.691,116.512],"nice":false,"zero":false}}, "y": {"field":"ty","type":"quantitative","axis":null,"scale":{"domain":[-5.548,97.442],"nice":false,"zero":false}}},
"layer": [
{"data":{"name":"triangle"},"transform":[{"calculate":"datum.Zn + datum.Mn / 2","as":"tx"},{"calculate":"datum.Mn * 0.8660254","as":"ty"}],"mark":{"type":"area","color":"#ebebeb","opacity":1},"encoding":{"y2":{"datum":0}}},
{"data":{"name":"grid"},"transform":[{"calculate":"datum.zn1 + datum.mn1 / 2","as":"tx"},{"calculate":"datum.mn1 * 0.8660254","as":"ty"},{"calculate":"datum.zn2 + datum.mn2 / 2","as":"tx2"},{"calculate":"datum.mn2 * 0.8660254","as":"ty2"},{"filter":"datum.v % 20 != 0"}],"mark":{"type":"rule","color":"#ffffff","strokeWidth":0.35},"encoding":{"x2":{"field":"tx2"},"y2":{"field":"ty2"}}},
{"data":{"name":"grid"},"transform":[{"calculate":"datum.zn1 + datum.mn1 / 2","as":"tx"},{"calculate":"datum.mn1 * 0.8660254","as":"ty"},{"calculate":"datum.zn2 + datum.mn2 / 2","as":"tx2"},{"calculate":"datum.mn2 * 0.8660254","as":"ty2"},{"filter":"datum.v % 20 == 0"}],"mark":{"type":"rule","color":"#ffffff","strokeWidth":0.75},"encoding":{"x2":{"field":"tx2"},"y2":{"field":"ty2"}}},
{"data":{"name":"ticks"},"transform":[{"calculate":"datum.Zn + datum.Mn / 2","as":"tx"},{"calculate":"datum.Mn * 0.8660254","as":"ty"},{"calculate":"datum.side == 'R' ? datum.tx + 0.7 : datum.tx - 0.35","as":"tx2"},{"calculate":"datum.side == 'R' ? datum.ty : (datum.side == 'B' ? datum.ty - 0.606 : datum.ty + 0.606)","as":"ty2"}],"mark":{"type":"rule","color":"#555555","strokeWidth":0.4},"encoding":{"x2":{"field":"tx2"},"y2":{"field":"ty2"}}},
{"data":{"name":"ticks"},"transform":[{"calculate":"datum.Zn + datum.Mn / 2","as":"tx"},{"calculate":"datum.Mn * 0.8660254","as":"ty"},{"calculate":"datum.side == 'R' ? datum.tx + 0.7 : datum.tx - 0.35","as":"tx2"},{"calculate":"datum.side == 'R' ? datum.ty : (datum.side == 'B' ? datum.ty - 0.606 : datum.ty + 0.606)","as":"ty2"},{"filter":"datum.side == 'R' && datum.v % 20 == 0"}],"mark":{"type":"text","font":"DejaVu Sans","fontSize":7.3,"color":"#555555","align":"left","baseline":"middle","dx":1},"encoding":{"x":{"field":"tx2","type":"quantitative","axis":null},"y":{"field":"ty2","type":"quantitative","axis":null},"text":{"field":"v","type":"nominal"}}},
{"data":{"name":"ticks"},"transform":[{"calculate":"datum.Zn + datum.Mn / 2","as":"tx"},{"calculate":"datum.Mn * 0.8660254","as":"ty"},{"calculate":"datum.side == 'R' ? datum.tx + 0.7 : datum.tx - 0.35","as":"tx2"},{"calculate":"datum.side == 'R' ? datum.ty : (datum.side == 'B' ? datum.ty - 0.606 : datum.ty + 0.606)","as":"ty2"},{"filter":"datum.side == 'L' && datum.v % 20 == 0"}],"mark":{"type":"text","font":"DejaVu Sans","fontSize":7.3,"color":"#555555","align":"right","baseline":"middle","angle":60,"dx":-1},"encoding":{"x":{"field":"tx2","type":"quantitative","axis":null},"y":{"field":"ty2","type":"quantitative","axis":null},"text":{"field":"v","type":"nominal"}}},
{"data":{"name":"ticks"},"transform":[{"calculate":"datum.Zn + datum.Mn / 2","as":"tx"},{"calculate":"datum.Mn * 0.8660254","as":"ty"},{"calculate":"datum.side == 'R' ? datum.tx + 0.7 : datum.tx - 0.35","as":"tx2"},{"calculate":"datum.side == 'R' ? datum.ty : (datum.side == 'B' ? datum.ty - 0.606 : datum.ty + 0.606)","as":"ty2"},{"filter":"datum.side == 'B' && datum.v % 20 == 0"}],"mark":{"type":"text","font":"DejaVu Sans","fontSize":7.3,"color":"#555555","align":"right","baseline":"middle","angle":-60,"dx":-1},"encoding":{"x":{"field":"tx2","type":"quantitative","axis":null},"y":{"field":"ty2","type":"quantitative","axis":null},"text":{"field":"v","type":"nominal"}}},
{"data":{"name":"ellipses"},"transform":[{"filter":{"field":"ellipse","equal":"O45.1"}},{"calculate":"datum.Zn + datum.Mn / 2","as":"tx"},{"calculate":"datum.Mn * 0.8660254","as":"ty"}],"mark":{"type":"point","filled":false,"opacity":1,"strokeWidth":1.2},"encoding":{
 "shape":{"field":"ellipse","type":"nominal","legend":null},
 "size":{"field":"major","type":"quantitative","legend":null,"scale":{"type":"pow","exponent":2,"domain":[0,20],"range":[0,14496],"nice":false}},
 "angle":{"field":"tilt","type":"quantitative","scale":null},
 "stroke":{"field":"ellipse","type":"nominal","legend":null}}},
{"data":{"name":"o45"},"transform":[{"calculate":"datum.Zn + datum.Mn / 2","as":"tx"},{"calculate":"datum.Mn * 0.8660254","as":"ty"}],"mark":{"type":"point","filled":true,"size":16,"opacity":1,"strokeWidth":0},"encoding":{"color":{"field":"colourant","type":"nominal"}}}
]
},
{"data":{"name":"one"},"mark":{"type":"text","text":"Mn","font":"DejaVu Sans","fontSize":13.5,"align":"center","baseline":"middle","color":"black"},"encoding":{"x":{"datum":53.2,"axis":null},"y":{"datum":91.4,"axis":null}}},
{"data":{"name":"one"},"mark":{"type":"text","text":"Ni","font":"DejaVu Sans","fontSize":13.5,"align":"center","baseline":"middle","color":"black"},"encoding":{"x":{"datum":-6.0,"axis":null},"y":{"datum":-3.2,"axis":null}}},
{"data":{"name":"one"},"mark":{"type":"text","text":"Zn","font":"DejaVu Sans","fontSize":13.5,"align":"center","baseline":"middle","color":"black"},"encoding":{"x":{"datum":106.5,"axis":null},"y":{"datum":-3.2,"axis":null}}},
{"data":{"name":"one"},"mark":{"type":"text","text":"O45.1","font":"DejaVu Sans","fontSize":27.5,"align":"left","baseline":"middle","color":"black"},"encoding":{"x":{"datum":69.8,"axis":null},"y":{"datum":81.0,"axis":null}}}
]
},
{
"width": 419, "height": 310,
"layer": [
{
"encoding": {"x": {"field":"tx","type":"quantitative","axis":null,"scale":{"domain":[-22.259,116.944],"nice":false,"zero":false}}, "y": {"field":"ty","type":"quantitative","axis":null,"scale":{"domain":[-5.548,97.442],"nice":false,"zero":false}}},
"layer": [
{"data":{"name":"triangle"},"transform":[{"calculate":"datum.Zn + datum.Mn / 2","as":"tx"},{"calculate":"datum.Mn * 0.8660254","as":"ty"}],"mark":{"type":"area","color":"#ebebeb","opacity":1},"encoding":{"y2":{"datum":0}}},
{"data":{"name":"grid"},"transform":[{"calculate":"datum.zn1 + datum.mn1 / 2","as":"tx"},{"calculate":"datum.mn1 * 0.8660254","as":"ty"},{"calculate":"datum.zn2 + datum.mn2 / 2","as":"tx2"},{"calculate":"datum.mn2 * 0.8660254","as":"ty2"},{"filter":"datum.v % 20 != 0"}],"mark":{"type":"rule","color":"#ffffff","strokeWidth":0.35},"encoding":{"x2":{"field":"tx2"},"y2":{"field":"ty2"}}},
{"data":{"name":"grid"},"transform":[{"calculate":"datum.zn1 + datum.mn1 / 2","as":"tx"},{"calculate":"datum.mn1 * 0.8660254","as":"ty"},{"calculate":"datum.zn2 + datum.mn2 / 2","as":"tx2"},{"calculate":"datum.mn2 * 0.8660254","as":"ty2"},{"filter":"datum.v % 20 == 0"}],"mark":{"type":"rule","color":"#ffffff","strokeWidth":0.75},"encoding":{"x2":{"field":"tx2"},"y2":{"field":"ty2"}}},
{"data":{"name":"ticks"},"transform":[{"calculate":"datum.Zn + datum.Mn / 2","as":"tx"},{"calculate":"datum.Mn * 0.8660254","as":"ty"},{"calculate":"datum.side == 'R' ? datum.tx + 0.7 : datum.tx - 0.35","as":"tx2"},{"calculate":"datum.side == 'R' ? datum.ty : (datum.side == 'B' ? datum.ty - 0.606 : datum.ty + 0.606)","as":"ty2"}],"mark":{"type":"rule","color":"#555555","strokeWidth":0.4},"encoding":{"x2":{"field":"tx2"},"y2":{"field":"ty2"}}},
{"data":{"name":"ticks"},"transform":[{"calculate":"datum.Zn + datum.Mn / 2","as":"tx"},{"calculate":"datum.Mn * 0.8660254","as":"ty"},{"calculate":"datum.side == 'R' ? datum.tx + 0.7 : datum.tx - 0.35","as":"tx2"},{"calculate":"datum.side == 'R' ? datum.ty : (datum.side == 'B' ? datum.ty - 0.606 : datum.ty + 0.606)","as":"ty2"},{"filter":"datum.side == 'R' && datum.v % 20 == 0"}],"mark":{"type":"text","font":"DejaVu Sans","fontSize":7.3,"color":"#555555","align":"left","baseline":"middle","dx":1},"encoding":{"x":{"field":"tx2","type":"quantitative","axis":null},"y":{"field":"ty2","type":"quantitative","axis":null},"text":{"field":"v","type":"nominal"}}},
{"data":{"name":"ticks"},"transform":[{"calculate":"datum.Zn + datum.Mn / 2","as":"tx"},{"calculate":"datum.Mn * 0.8660254","as":"ty"},{"calculate":"datum.side == 'R' ? datum.tx + 0.7 : datum.tx - 0.35","as":"tx2"},{"calculate":"datum.side == 'R' ? datum.ty : (datum.side == 'B' ? datum.ty - 0.606 : datum.ty + 0.606)","as":"ty2"},{"filter":"datum.side == 'L' && datum.v % 20 == 0"}],"mark":{"type":"text","font":"DejaVu Sans","fontSize":7.3,"color":"#555555","align":"right","baseline":"middle","angle":60,"dx":-1},"encoding":{"x":{"field":"tx2","type":"quantitative","axis":null},"y":{"field":"ty2","type":"quantitative","axis":null},"text":{"field":"v","type":"nominal"}}},
{"data":{"name":"ticks"},"transform":[{"calculate":"datum.Zn + datum.Mn / 2","as":"tx"},{"calculate":"datum.Mn * 0.8660254","as":"ty"},{"calculate":"datum.side == 'R' ? datum.tx + 0.7 : datum.tx - 0.35","as":"tx2"},{"calculate":"datum.side == 'R' ? datum.ty : (datum.side == 'B' ? datum.ty - 0.606 : datum.ty + 0.606)","as":"ty2"},{"filter":"datum.side == 'B' && datum.v % 20 == 0"}],"mark":{"type":"text","font":"DejaVu Sans","fontSize":7.3,"color":"#555555","align":"right","baseline":"middle","angle":-60,"dx":-1},"encoding":{"x":{"field":"tx2","type":"quantitative","axis":null},"y":{"field":"ty2","type":"quantitative","axis":null},"text":{"field":"v","type":"nominal"}}},
{"data":{"name":"ellipses"},"transform":[{"filter":{"field":"ellipse","equal":"O42.1&2"}},{"calculate":"datum.Zn + datum.Mn / 2","as":"tx"},{"calculate":"datum.Mn * 0.8660254","as":"ty"}],"mark":{"type":"point","filled":false,"opacity":1,"strokeWidth":1.2},"encoding":{
 "shape":{"field":"ellipse","type":"nominal","legend":null},
 "size":{"field":"major","type":"quantitative","legend":null,"scale":{"type":"pow","exponent":2,"domain":[0,20],"range":[0,14496],"nice":false}},
 "angle":{"field":"tilt","type":"quantitative","scale":null},
 "stroke":{"field":"ellipse","type":"nominal","legend":null}}},
{"data":{"name":"o42"},"transform":[{"calculate":"datum.Zn + datum.Mn / 2","as":"tx"},{"calculate":"datum.Mn * 0.8660254","as":"ty"}],"mark":{"type":"point","filled":true,"size":16,"opacity":1,"strokeWidth":0},"encoding":{"color":{"field":"colourant","type":"nominal"}}}
]
},
{"data":{"name":"one"},"mark":{"type":"text","text":"Mn","font":"DejaVu Sans","fontSize":13.5,"align":"center","baseline":"middle","color":"black"},"encoding":{"x":{"datum":53.2,"axis":null},"y":{"datum":91.4,"axis":null}}},
{"data":{"name":"one"},"mark":{"type":"text","text":"Ni","font":"DejaVu Sans","fontSize":13.5,"align":"center","baseline":"middle","color":"black"},"encoding":{"x":{"datum":-6.0,"axis":null},"y":{"datum":-3.2,"axis":null}}},
{"data":{"name":"one"},"mark":{"type":"text","text":"Zn","font":"DejaVu Sans","fontSize":13.5,"align":"center","baseline":"middle","color":"black"},"encoding":{"x":{"datum":106.5,"axis":null},"y":{"datum":-3.2,"axis":null}}},
{"data":{"name":"one"},"mark":{"type":"text","text":"O42.1&2","font":"DejaVu Sans","fontSize":27.5,"align":"left","baseline":"middle","color":"black"},"encoding":{"x":{"datum":70.0,"axis":null},"y":{"datum":81.5,"axis":null}}}
]
},
{
"width": 420, "height": 310,
"layer": [
{
"encoding": {"x": {"field":"tx","type":"quantitative","axis":null,"scale":{"domain":[-21.163,118.372],"nice":false,"zero":false}}, "y": {"field":"ty","type":"quantitative","axis":null,"scale":{"domain":[-5.216,97.774],"nice":false,"zero":false}}},
"layer": [
{"data":{"name":"triangle"},"transform":[{"calculate":"datum.Zn + datum.Mn / 2","as":"tx"},{"calculate":"datum.Mn * 0.8660254","as":"ty"}],"mark":{"type":"area","color":"#ebebeb","opacity":1},"encoding":{"y2":{"datum":0}}},
{"data":{"name":"grid"},"transform":[{"calculate":"datum.zn1 + datum.mn1 / 2","as":"tx"},{"calculate":"datum.mn1 * 0.8660254","as":"ty"},{"calculate":"datum.zn2 + datum.mn2 / 2","as":"tx2"},{"calculate":"datum.mn2 * 0.8660254","as":"ty2"},{"filter":"datum.v % 20 != 0"}],"mark":{"type":"rule","color":"#ffffff","strokeWidth":0.35},"encoding":{"x2":{"field":"tx2"},"y2":{"field":"ty2"}}},
{"data":{"name":"grid"},"transform":[{"calculate":"datum.zn1 + datum.mn1 / 2","as":"tx"},{"calculate":"datum.mn1 * 0.8660254","as":"ty"},{"calculate":"datum.zn2 + datum.mn2 / 2","as":"tx2"},{"calculate":"datum.mn2 * 0.8660254","as":"ty2"},{"filter":"datum.v % 20 == 0"}],"mark":{"type":"rule","color":"#ffffff","strokeWidth":0.75},"encoding":{"x2":{"field":"tx2"},"y2":{"field":"ty2"}}},
{"data":{"name":"ticks"},"transform":[{"calculate":"datum.Zn + datum.Mn / 2","as":"tx"},{"calculate":"datum.Mn * 0.8660254","as":"ty"},{"calculate":"datum.side == 'R' ? datum.tx + 0.7 : datum.tx - 0.35","as":"tx2"},{"calculate":"datum.side == 'R' ? datum.ty : (datum.side == 'B' ? datum.ty - 0.606 : datum.ty + 0.606)","as":"ty2"}],"mark":{"type":"rule","color":"#555555","strokeWidth":0.4},"encoding":{"x2":{"field":"tx2"},"y2":{"field":"ty2"}}},
{"data":{"name":"ticks"},"transform":[{"calculate":"datum.Zn + datum.Mn / 2","as":"tx"},{"calculate":"datum.Mn * 0.8660254","as":"ty"},{"calculate":"datum.side == 'R' ? datum.tx + 0.7 : datum.tx - 0.35","as":"tx2"},{"calculate":"datum.side == 'R' ? datum.ty : (datum.side == 'B' ? datum.ty - 0.606 : datum.ty + 0.606)","as":"ty2"},{"filter":"datum.side == 'R' && datum.v % 20 == 0"}],"mark":{"type":"text","font":"DejaVu Sans","fontSize":7.3,"color":"#555555","align":"left","baseline":"middle","dx":1},"encoding":{"x":{"field":"tx2","type":"quantitative","axis":null},"y":{"field":"ty2","type":"quantitative","axis":null},"text":{"field":"v","type":"nominal"}}},
{"data":{"name":"ticks"},"transform":[{"calculate":"datum.Zn + datum.Mn / 2","as":"tx"},{"calculate":"datum.Mn * 0.8660254","as":"ty"},{"calculate":"datum.side == 'R' ? datum.tx + 0.7 : datum.tx - 0.35","as":"tx2"},{"calculate":"datum.side == 'R' ? datum.ty : (datum.side == 'B' ? datum.ty - 0.606 : datum.ty + 0.606)","as":"ty2"},{"filter":"datum.side == 'L' && datum.v % 20 == 0"}],"mark":{"type":"text","font":"DejaVu Sans","fontSize":7.3,"color":"#555555","align":"right","baseline":"middle","angle":60,"dx":-1},"encoding":{"x":{"field":"tx2","type":"quantitative","axis":null},"y":{"field":"ty2","type":"quantitative","axis":null},"text":{"field":"v","type":"nominal"}}},
{"data":{"name":"ticks"},"transform":[{"calculate":"datum.Zn + datum.Mn / 2","as":"tx"},{"calculate":"datum.Mn * 0.8660254","as":"ty"},{"calculate":"datum.side == 'R' ? datum.tx + 0.7 : datum.tx - 0.35","as":"tx2"},{"calculate":"datum.side == 'R' ? datum.ty : (datum.side == 'B' ? datum.ty - 0.606 : datum.ty + 0.606)","as":"ty2"},{"filter":"datum.side == 'B' && datum.v % 20 == 0"}],"mark":{"type":"text","font":"DejaVu Sans","fontSize":7.3,"color":"#555555","align":"right","baseline":"middle","angle":-60,"dx":-1},"encoding":{"x":{"field":"tx2","type":"quantitative","axis":null},"y":{"field":"ty2","type":"quantitative","axis":null},"text":{"field":"v","type":"nominal"}}},
{"data":{"name":"ellipses"},"transform":[{"filter":{"field":"ellipse","equal":"Q48.4 and P46.33"}},{"calculate":"datum.Zn + datum.Mn / 2","as":"tx"},{"calculate":"datum.Mn * 0.8660254","as":"ty"}],"mark":{"type":"point","filled":false,"opacity":1,"strokeWidth":1.2},"encoding":{
 "shape":{"field":"ellipse","type":"nominal","legend":null},
 "size":{"field":"major","type":"quantitative","legend":null,"scale":{"type":"pow","exponent":2,"domain":[0,20],"range":[0,14496],"nice":false}},
 "angle":{"field":"tilt","type":"quantitative","scale":null},
 "stroke":{"field":"ellipse","type":"nominal","legend":null}}},
{"data":{"name":"q48"},"transform":[{"calculate":"datum.Zn + datum.Mn / 2","as":"tx"},{"calculate":"datum.Mn * 0.8660254","as":"ty"}],"mark":{"type":"point","filled":true,"size":16,"opacity":1,"strokeWidth":0},"encoding":{"color":{"field":"colourant","type":"nominal"}}}
]
},
{"data":{"name":"one"},"mark":{"type":"text","text":"Mn","font":"DejaVu Sans","fontSize":13.5,"align":"center","baseline":"middle","color":"black"},"encoding":{"x":{"datum":53.2,"axis":null},"y":{"datum":91.4,"axis":null}}},
{"data":{"name":"one"},"mark":{"type":"text","text":"Ni","font":"DejaVu Sans","fontSize":13.5,"align":"center","baseline":"middle","color":"black"},"encoding":{"x":{"datum":-6.0,"axis":null},"y":{"datum":-3.2,"axis":null}}},
{"data":{"name":"one"},"mark":{"type":"text","text":"Zn","font":"DejaVu Sans","fontSize":13.5,"align":"center","baseline":"middle","color":"black"},"encoding":{"x":{"datum":106.5,"axis":null},"y":{"datum":-3.2,"axis":null}}},
{"data":{"name":"one"},"mark":{"type":"text","text":["Q48.4 and","P46.33"],"font":"DejaVu Sans","fontSize":27.5,"lineHeight":35,"align":"left","baseline":"alphabetic","color":"black"},"encoding":{"x":{"datum":70.1,"axis":null},"y":{"datum":79.5,"axis":null}}}
]
}
],
"spacing": 0,
"bounds": "flush"
}
]
}
